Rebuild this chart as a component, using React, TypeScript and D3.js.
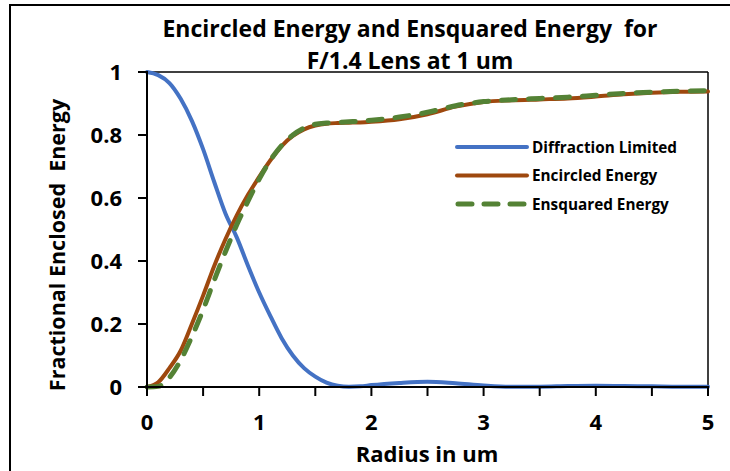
import React from "react";
import * as d3 from "d3";

const radius = [0, 0.1, 0.2, 0.3, 0.4, 0.5, 0.6, 0.7, 0.8, 0.9, 1.0, 1.1, 1.2, 1.3, 1.4, 1.5, 1.6, 1.7, 1.8, 1.9, 2.0, 2.25, 2.5, 2.75, 3.0, 3.25, 3.5, 3.75, 4.0, 4.25, 4.5, 4.75, 5.0];
const diffractionLimited = [1.0, 0.99, 0.965, 0.915, 0.845, 0.755, 0.65, 0.55, 0.475, 0.385, 0.30, 0.225, 0.155, 0.10, 0.06, 0.033, 0.014, 0.004, 0.001, 0.002, 0.006, 0.013, 0.017, 0.012, 0.005, 0.001, 0.001, 0.003, 0.004, 0.003, 0.002, 0.001, 0.001];
const encircledEnergy = [0.0, 0.015, 0.06, 0.115, 0.2, 0.29, 0.385, 0.47, 0.545, 0.61, 0.667, 0.72, 0.765, 0.797, 0.818, 0.83, 0.836, 0.838, 0.839, 0.84, 0.842, 0.85, 0.866, 0.89, 0.905, 0.91, 0.913, 0.916, 0.922, 0.929, 0.934, 0.937, 0.938];
const ensquaredEnergy = [0.0, 0.002, 0.03, 0.085, 0.16, 0.245, 0.34, 0.43, 0.515, 0.59, 0.66, 0.72, 0.767, 0.8, 0.822, 0.834, 0.838, 0.84, 0.842, 0.844, 0.847, 0.857, 0.872, 0.893, 0.906, 0.912, 0.916, 0.92, 0.926, 0.932, 0.936, 0.939, 0.941];

const xTickValues = [0, 1, 2, 3, 4, 5];
const xMinorTicks = [0, 0.5, 1, 1.5, 2, 2.5, 3, 3.5, 4, 4.5, 5];
const yTickValues = [0, 0.2, 0.4, 0.6, 0.8, 1];
const seriesNames = ["Diffraction Limited", "Encircled Energy", "Ensquared Energy"];
const titleLines = ["Encircled Energy and Ensquared Energy  for", "F/1.4 Lens at 1 um"];

const W = 730;
const H = 471;
const left = 147;
const right = 708;
const top = 72;
const bottom = 387;
const FONT = "'Open Sans', Lato, sans-serif";

export default function App() {
  const x = d3.scaleLinear().domain([0, 5]).range([left, right]);
  const y = d3.scaleLinear().domain([0, 1]).range([bottom, top]);
  const mk = (vals: number[]) =>
    d3
      .line<number>()
      .x((_, i) => x(radius[i]))
      .y((d) => y(d))
      .curve(d3.curveMonotoneX)(vals) as string;

  const series = [
    { name: seriesNames[0], vals: diffractionLimited, color: "#4472C4", width: 4, dash: undefined as string | undefined },
    { name: seriesNames[1], vals: encircledEnergy, color: "#9E480E", width: 4, dash: undefined },
    { name: seriesNames[2], vals: ensquaredEnergy, color: "#548235", width: 5, dash: "14,13" },
  ];

  return (
    <svg
      width={W}
      height={H}
      style={{ position: "absolute", left: 0, top: 0, background: "#fff" }}
      fontFamily={FONT}
      fontWeight="bold"
    >
      <rect x={0} y={0} width={W} height={H} fill="#fff" />
      {/* outer frame */}
      <line x1={10} y1={5} x2={10} y2={H + 5} stroke="#000" strokeWidth={2} />
      <line x1={9} y1={5} x2={W + 5} y2={5} stroke="#000" strokeWidth={2} />

      {/* title */}
      {titleLines.map((t, i) => (
        <text key={i} x={410} y={37 + i * 32} textAnchor="middle" fontSize={23} fill="#000" style={{ whiteSpace: "pre" }}>
          {t}
        </text>
      ))}

      {/* plot box top/right */}
      <line x1={left} y1={top} x2={right} y2={top} stroke="#000" strokeWidth={1.5} />
      <line x1={right} y1={top} x2={right} y2={bottom} stroke="#000" strokeWidth={1.5} />

      {/* series */}
      {series.map((s) => (
        <path
          key={s.name}
          d={mk(s.vals)}
          fill="none"
          stroke={s.color}
          strokeWidth={s.width}
          strokeDasharray={s.dash}
          strokeLinecap="round"
          strokeLinejoin="round"
        />
      ))}

      {/* axes */}
      <line x1={left} y1={top - 1} x2={left} y2={bottom + 1} stroke="#000" strokeWidth={2} />
      <line x1={left - 1} y1={bottom} x2={right + 1} y2={bottom} stroke="#000" strokeWidth={2} />
      {yTickValues.map((v) => (
        <g key={"y" + v}>
          <line x1={left - 9} x2={left} y1={y(v)} y2={y(v)} stroke="#000" strokeWidth={2} />
          <text x={122} y={y(v)} dy="0.36em" textAnchor="end" fontSize={22} fill="#000">
            {d3.format("~g")(v)}
          </text>
        </g>
      ))}
      {xMinorTicks.map((v) => (
        <line key={"xm" + v} x1={x(v)} x2={x(v)} y1={bottom} y2={bottom + 9} stroke="#000" strokeWidth={2} />
      ))}
      {xTickValues.map((v) => (
        <text key={"x" + v} x={x(v)} y={430} textAnchor="middle" fontSize={22} fill="#000">
          {v}
        </text>
      ))}

      {/* axis titles */}
      <text x={427} y={462} textAnchor="middle" fontSize={22} fill="#000">
        Radius in um
      </text>
      <text
        transform={`translate(65,245) rotate(-90)`}
        textAnchor="middle"
        fontSize={21.5}
        fill="#000"
        style={{ whiteSpace: "pre" }}
      >
        Fractional Enclosed  Energy
      </text>

      {/* legend */}
      {series.map((s, i) => (
        <g key={"lg" + s.name} transform={`translate(0,${147 + i * 28.5})`}>
          <line
            x1={s.dash ? 458 : 457}
            x2={s.dash ? 526 : 527}
            y1={0}
            y2={0}
            stroke={s.color}
            strokeWidth={s.width}
            strokeDasharray={s.dash ? "14,12" : undefined}
            strokeLinecap="round"
          />
          <text x={532} y={0} dy="0.36em" fontSize={15.3} fill="#000">
            {s.name}
          </text>
        </g>
      ))}
    </svg>
  );
}
